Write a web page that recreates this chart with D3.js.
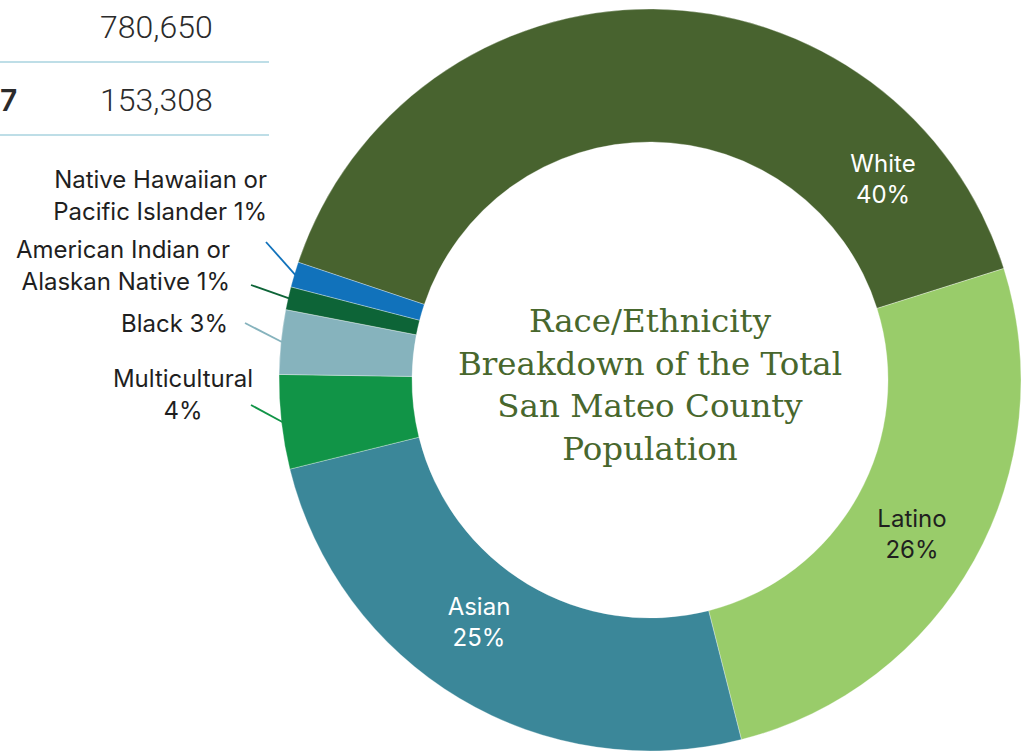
<!doctype html>
<html>
  <head>
    <script src="https://d3js.org/d3.v7.min.js"></script>
    <style>
      body { margin: 0; background: #fff; }
      svg { display: block; }
      text { font-family: Inter, Roboto, "Noto Sans", sans-serif; }
      .title { font-family: "DejaVu Serif", serif; fill: #48672d; }
      .tbl { fill: #2b2b2b; font-family: Roboto, sans-serif; font-weight: 300; }
    </style>
  </head>
  <body>
    <svg width="1024" height="753"></svg>
    <script>
      // slices, clockwise from White
      var groups = ["White", "Latino", "Asian", "Multicultural", "Black",
                    "American Indian or Alaskan Native", "Native Hawaiian or Pacific Islander"];
      var shares = [40.0, 25.9, 25.1, 4.1, 2.8, 1.0, 1.1];
      var colors = ["#48632f", "#99cc6a", "#3b8799", "#119447", "#86b3bd", "#0d6437", "#1172bb"];
      var labelLines = [["White", "40%"], ["Latino", "26%"], ["Asian", "25%"], ["Multicultural", "4%"],
                        ["Black 3%"], ["American Indian or", "Alaskan Native 1%"],
                        ["Native Hawaiian or", "Pacific Islander 1%"]];
      var titleLines = ["Race/Ethnicity", "Breakdown of the Total", "San Mateo County", "Population"];
      var tableNums = ["780,650", "153,308"];
      var tableKeys = ["", "7"];

      var svg = d3.select("svg");
      var cx = 650, cy = 380, rOut = 371, rIn = 238;
      var start = -71.5 * Math.PI / 180;

      // cut-off table at top left
      var rowY = d3.scaleLinear().domain([0, 1]).range([38, 111]);
      var tbl = svg.append("g");
      tableNums.forEach(function (v, i) {
        tbl.append("text").attr("class", "tbl").attr("x", 100).attr("y", rowY(i))
          .style("font-size", "32px").text(v);
        if (tableKeys[i]) tbl.append("text").attr("x", 0).attr("y", rowY(i))
          .style("font-size", "30px").style("font-weight", 600).attr("fill", "#2b2b2b").text(tableKeys[i]);
        tbl.append("line").attr("x1", 0).attr("x2", 269)
          .attr("y1", rowY(i) + 24).attr("y2", rowY(i) + 24)
          .attr("stroke", "#a9d3df").attr("stroke-width", 1.5);
      });

      var pie = d3.pie().sort(null).value(function (d) { return d; })
        .startAngle(start).endAngle(start + 2 * Math.PI);
      var arcs = pie(shares);
      var arc = d3.arc().innerRadius(rIn).outerRadius(rOut);

      var g = svg.append("g").attr("transform", "translate(" + cx + "," + cy + ")");
      g.selectAll("path.slice").data(arcs).enter().append("path")
        .attr("class", "slice")
        .attr("d", arc)
        .attr("fill", function (d, i) { return colors[i]; })
        .attr("stroke", "rgba(255,255,255,0.45)")
        .attr("stroke-width", 0.7);

      // labels inside the ring for the big slices
      var inner = [
        { i: 0, color: "#fff", x: 883, y: 172 },
        { i: 1, color: "#1f1f1f", x: 912, y: 527 },
        { i: 2, color: "#fff", x: 479, y: 615 }
      ];
      inner.forEach(function (o) {
        var t = svg.append("text").attr("text-anchor", "middle")
          .attr("fill", o.color).style("font-size", "24px");
        labelLines[o.i].forEach(function (ln, j) {
          t.append("tspan").attr("x", o.x).attr("y", o.y + j * 31).text(ln);
        });
      });

      // outside labels with leader lines for the small slices
      var outside = [
        { i: 3, anchor: "middle", x: 183, y: 387, line: [251, 405] },
        { i: 4, anchor: "end", x: 228, y: 332, line: [245, 323] },
        { i: 5, anchor: "end", x: 230, y: 258, line: [251, 285] },
        { i: 6, anchor: "end", x: 267, y: 188, line: [266, 242] }
      ];
      outside.forEach(function (o) {
        var a = arcs[o.i];
        var mid = (a.startAngle + a.endAngle) / 2;
        var ex = cx + (rOut - 1) * Math.sin(mid), ey = cy - (rOut - 1) * Math.cos(mid);
        svg.append("line")
          .attr("x1", o.line[0]).attr("y1", o.line[1])
          .attr("x2", ex).attr("y2", ey)
          .attr("stroke", colors[o.i]).attr("stroke-width", 1.8);
        var t = svg.append("text").attr("text-anchor", o.anchor)
          .attr("fill", "#1f1f1f").style("font-size", "24px");
        labelLines[o.i].forEach(function (ln, j) {
          t.append("tspan").attr("x", o.x).attr("y", o.y + j * 32).text(ln);
        });
      });

      // title in the hole
      var tt = svg.append("text").attr("class", "title").attr("text-anchor", "middle")
        .style("font-size", "32.5px");
      titleLines.forEach(function (ln, j) {
        tt.append("tspan").attr("x", cx).attr("y", 332 + j * 42.7).text(ln);
      });
    </script>
  </body>
</html>
